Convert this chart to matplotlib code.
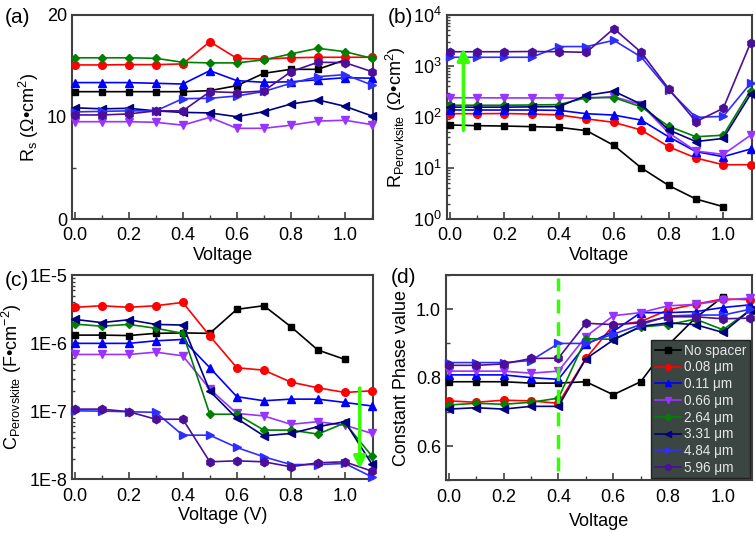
import math
import matplotlib
matplotlib.use("Agg")
import matplotlib.pyplot as plt
from matplotlib.ticker import MultipleLocator, FixedLocator, FuncFormatter, LogLocator, NullFormatter

plt.rcParams['font.family'] = ['Liberation Sans', 'DejaVu Sans']
plt.rcParams['mathtext.fontset'] = 'custom'
plt.rcParams['mathtext.rm'] = 'Liberation Sans'
plt.rcParams['mathtext.it'] = 'Liberation Sans:italic'
plt.rcParams['mathtext.bf'] = 'Liberation Sans:bold'

# ---- data ----
volt = [0.0, 0.1, 0.2, 0.3, 0.4, 0.5, 0.6, 0.7, 0.8, 0.9, 1.0, 1.1]
labels = ['No spacer', '0.08 μm', '0.11 μm', '0.66 μm', '2.64 μm', '3.31 μm', '4.84 μm', '5.96 μm']

# (a) Rs
rs_nospacer = [12.48, 12.48, 12.48, 12.48, 12.48, 12.58, 13.07, 14.28, 14.67, 14.67, 15.59]
rs_008 = [15.1, 15.1, 15.13, 15.13, 15.2, 17.38, 15.75, 15.67, 15.8, 15.85, 15.85, 15.85]
rs_011 = [13.37, 13.37, 13.37, 13.3, 13.23, 14.54, 13.56, 13.4, 13.45, 13.65, 13.85, 13.8]
rs_066 = [9.54, 9.54, 9.54, 9.48, 9.2, 9.97, 8.89, 8.89, 9.2, 9.6, 9.68, 9.25]
rs_264 = [15.8, 15.8, 15.8, 15.75, 15.36, 15.3, 15.3, 15.6, 16.18, 16.73, 16.4, 15.75]
rs_331 = [10.9, 10.8, 10.85, 10.6, 10.45, 10.4, 10.03, 10.52, 11.27, 11.67, 11.05, 10.1]
rs_484 = [10.5, 10.55, 10.6, 10.6, 11.8, 11.83, 12.06, 12.5, 13.3, 13.95, 14.15, 13.14]
rs_596 = [10.2, 10.2, 10.3, 10.6, 10.6, 12.48, 12.39, 12.55, 14.44, 15.36, 15.33, 14.44]

# (b) R perovskite
rp_nospacer = [69.7, 67.6, 66.5, 64.7, 62.7, 54, 27.8, 10.1, 4.57, 2.47, 1.75]
rp_008 = [116, 116, 117, 114, 110, 92, 78.5, 55.6, 26.2, 15.7, 11.6, 11.6]
rp_011 = [137, 137, 137, 137, 135, 116, 109, 87, 41, 21, 16.7, 23.6]
rp_066 = [238, 238, 236, 236, 236, 232, 250, 175, 49, 21.5, 18.5, 44]
rp_264 = [170, 170, 170, 172, 175, 240, 240, 158, 66, 41, 44, 330]
rp_331 = [156, 156, 156, 158, 160, 265, 320, 178, 56, 33, 38, 280]
rp_484 = [1480, 1480, 1480, 1480, 2400, 2400, 3180, 1500, 340, 98, 103, 460]
rp_596 = [1900, 1900, 1900, 1920, 1900, 1850, 5400, 1850, 360, 81, 148, 2850]

# (c) C perovskite
cp_nospacer = [1.31e-6, 1.31e-6, 1.29e-6, 1.39e-6, 1.41e-6, 1.39e-6, 3.13e-6, 3.54e-6, 1.74e-6, 7.9e-7, 5.75e-7]
cp_008 = [3.35e-6, 3.54e-6, 3.35e-6, 3.54e-6, 3.96e-6, 1.27e-6, 4.34e-7, 4.0e-7, 2.67e-7, 2.2e-7, 1.88e-7, 1.99e-7]
cp_011 = [9.9e-7, 9.9e-7, 9.9e-7, 1.08e-6, 1.13e-6, 4.34e-7, 1.63e-7, 1.42e-7, 1.5e-7, 1.5e-7, 1.34e-7, 1.19e-7]
cp_066 = [6.8e-7, 6.8e-7, 6.8e-7, 7.35e-7, 6.5e-7, 2.11e-7, 9.25e-8, 8.5e-8, 6.4e-8, 7.0e-8, 6.2e-8, 4.7e-8]
cp_264 = [1.9e-6, 1.77e-6, 1.88e-6, 1.65e-6, 1.39e-6, 9.0e-8, 9.0e-8, 5.26e-8, 5.26e-8, 4.6e-8, 6.7e-8, 2.18e-8]
cp_331 = [2.23e-6, 2.0e-6, 2.2e-6, 1.88e-6, 1.84e-6, 1.97e-7, 7.8e-8, 4.33e-8, 4.7e-8, 5.9e-8, 7.0e-8, 1.66e-8]
cp_484 = [1.01e-7, 1.0e-7, 9.8e-8, 9.6e-8, 4.43e-8, 4.43e-8, 2.92e-8, 2.13e-8, 1.64e-8, 1.64e-8, 1.7e-8, 1.08e-8]
cp_596 = [1.07e-7, 1.07e-7, 9.8e-8, 7.6e-8, 7.6e-8, 1.8e-8, 1.86e-8, 1.8e-8, 1.52e-8, 1.74e-8, 1.8e-8, 1.31e-8]

# (d) constant phase
n_nospacer = [0.788, 0.788, 0.788, 0.784, 0.784, 0.788, 0.75, 0.788, 0.895, 0.975, 1.036]
n_008 = [0.732, 0.728, 0.734, 0.732, 0.725, 0.856, 0.953, 0.964, 0.998, 1.015, 1.03, 1.028]
n_011 = [0.808, 0.808, 0.808, 0.8, 0.795, 0.897, 0.935, 0.99, 0.99, 0.993, 1.005, 1.013]
n_066 = [0.819, 0.819, 0.819, 0.813, 0.819, 0.92, 0.981, 0.99, 1.01, 1.014, 1.026, 1.033]
n_264 = [0.72, 0.725, 0.722, 0.728, 0.74, 0.914, 0.912, 0.948, 0.955, 0.971, 0.94, 0.998]
n_331 = [0.708, 0.712, 0.708, 0.716, 0.716, 0.855, 0.91, 0.95, 0.96, 0.955, 0.932, 0.998]
n_484 = [0.844, 0.844, 0.844, 0.85, 0.9, 0.9, 0.927, 0.955, 0.98, 0.983, 0.983, 1.0]
n_596 = [0.836, 0.836, 0.84, 0.856, 0.857, 0.959, 0.955, 0.96, 0.978, 0.978, 0.972, 0.974]

colors = ['#000000', '#ff0000', '#0000ff', '#9933ff', '#008000', '#000080', '#2e2eff', '#4b0f9a']
markers = ['s', 'o', '^', 'v', 'D', '<', '>', 'h']
msizes = [5, 5.5, 6, 6, 4.5, 6, 6, 6]

ARROW = '#33ff00'
SPINE = '#404040'


def draw(ax, series):
    for i, y in enumerate(series):
        ax.plot(volt[:len(y)], y, color=colors[i], marker=markers[i], ms=msizes[i],
                lw=1.2, label=labels[i], clip_on=False, zorder=3)


def style(ax):
    ax.set_xlim(-0.01, 1.105)
    ax.xaxis.set_major_locator(MultipleLocator(0.2))
    ax.xaxis.set_minor_locator(MultipleLocator(0.1))
    ax.xaxis.set_major_formatter(FuncFormatter(lambda v, p: '%.1f' % v))
    ax.tick_params(which='both', direction='in', labelsize=13, color=SPINE)
    ax.tick_params(axis='x', which='major', pad=6)
    ax.tick_params(which='major', length=5, width=1.2)
    ax.tick_params(which='minor', length=3, width=1.0)
    for s in ax.spines.values():
        s.set_color(SPINE)
        s.set_linewidth(1.5)


fig = plt.figure(figsize=(7.55, 5.33), dpi=100)
axa = fig.add_axes([0.0954, 0.589, 0.399, 0.383])
axb = fig.add_axes([0.592, 0.589, 0.404, 0.383])
axc = fig.add_axes([0.0954, 0.101, 0.399, 0.383])
axd = fig.add_axes([0.5907, 0.099, 0.405, 0.385])

# (a)
draw(axa, [rs_nospacer, rs_008, rs_011, rs_066, rs_264, rs_331, rs_484, rs_596])
style(axa)
axa.set_ylim(0, 20)
axa.yaxis.set_major_locator(MultipleLocator(10))
axa.yaxis.set_minor_locator(MultipleLocator(5))
axa.set_xlabel('Voltage', fontsize=13, labelpad=2)
axa.set_ylabel(r'R$_\mathregular{s}$ (Ω•cm$^\mathregular{2}$)', fontsize=13)

# (b)
draw(axb, [rp_nospacer, rp_008, rp_011, rp_066, rp_264, rp_331, rp_484, rp_596])
style(axb)
axb.set_yscale('log')
axb.set_ylim(1, 1e4)
axb.yaxis.set_major_locator(LogLocator(base=10, numticks=10))
axb.yaxis.set_minor_locator(LogLocator(base=10, subs=range(2, 10), numticks=10))
axb.yaxis.set_minor_formatter(NullFormatter())
axb.tick_params(axis='y', which='minor', length=2.5)
axb.set_xlabel('Voltage', fontsize=13, labelpad=2)
axb.set_ylabel(r'R$_\mathregular{Perovksite}$ (Ω•cm$^\mathregular{2}$)', fontsize=13)
axb.annotate('', xy=(0.05, 2500), xytext=(0.05, 48),
             arrowprops=dict(arrowstyle='-|>', color=ARROW, lw=2.5, mutation_scale=18), zorder=5)

# (c)
draw(axc, [cp_nospacer, cp_008, cp_011, cp_066, cp_264, cp_331, cp_484, cp_596])
style(axc)
axc.set_yscale('log')
axc.set_ylim(1e-8, 1e-5)
axc.yaxis.set_major_locator(FixedLocator([1e-8, 1e-7, 1e-6, 1e-5]))
axc.yaxis.set_major_formatter(FuncFormatter(lambda v, p: '1E%d' % round(math.log10(v))))
axc.yaxis.set_minor_locator(LogLocator(base=10, subs=range(2, 10), numticks=10))
axc.yaxis.set_minor_formatter(NullFormatter())
axc.tick_params(axis='y', which='minor', length=2.5)
axc.set_xlabel('Voltage (V)', fontsize=13, labelpad=2)
axc.set_ylabel(r'C$_\mathregular{Perovskite}$ (F•cm$^\mathregular{-2}$)', fontsize=13)
axc.annotate('', xy=(1.055, 1.3e-8), xytext=(1.055, 2.4e-7),
             arrowprops=dict(arrowstyle='-|>', color=ARROW, lw=2.5, mutation_scale=18), zorder=5)

# (d)
draw(axd, [n_nospacer, n_008, n_011, n_066, n_264, n_331, n_484, n_596])
style(axd)
axd.set_ylim(0.5, 1.1)
axd.yaxis.set_major_locator(MultipleLocator(0.2))
axd.yaxis.set_minor_locator(MultipleLocator(0.1))
axd.yaxis.set_major_formatter(FuncFormatter(lambda v, p: '%.1f' % v))
axd.plot([0.4, 0.4], [0.527, 1.09], color=ARROW, lw=2.5, ls=(0, (4, 2.5)), zorder=4)
axd.set_xlabel('Voltage', fontsize=13, labelpad=5)
axd.set_ylabel('Constant Phase value', fontsize=13)
leg = axd.legend(loc='lower right', fontsize=9.8, frameon=True, fancybox=False,
                 framealpha=1, facecolor='#3b4542', edgecolor='#222222',
                 labelspacing=0.2, handlelength=1.9, handletextpad=0.25,
                 borderpad=0.25, borderaxespad=0.15, markerscale=0.75)
for t in leg.get_texts():
    t.set_color('#e6e6e6')

# panel letters
fig.text(0.006, 0.985, '(a)', fontsize=15, va='top', ha='left')
fig.text(0.513, 0.985, '(b)', fontsize=15, va='top', ha='left')
fig.text(0.006, 0.492, '(c)', fontsize=15, va='top', ha='left')
fig.text(0.518, 0.497, '(d)', fontsize=15, va='top', ha='left')

fig.savefig('out.png', dpi=100)
